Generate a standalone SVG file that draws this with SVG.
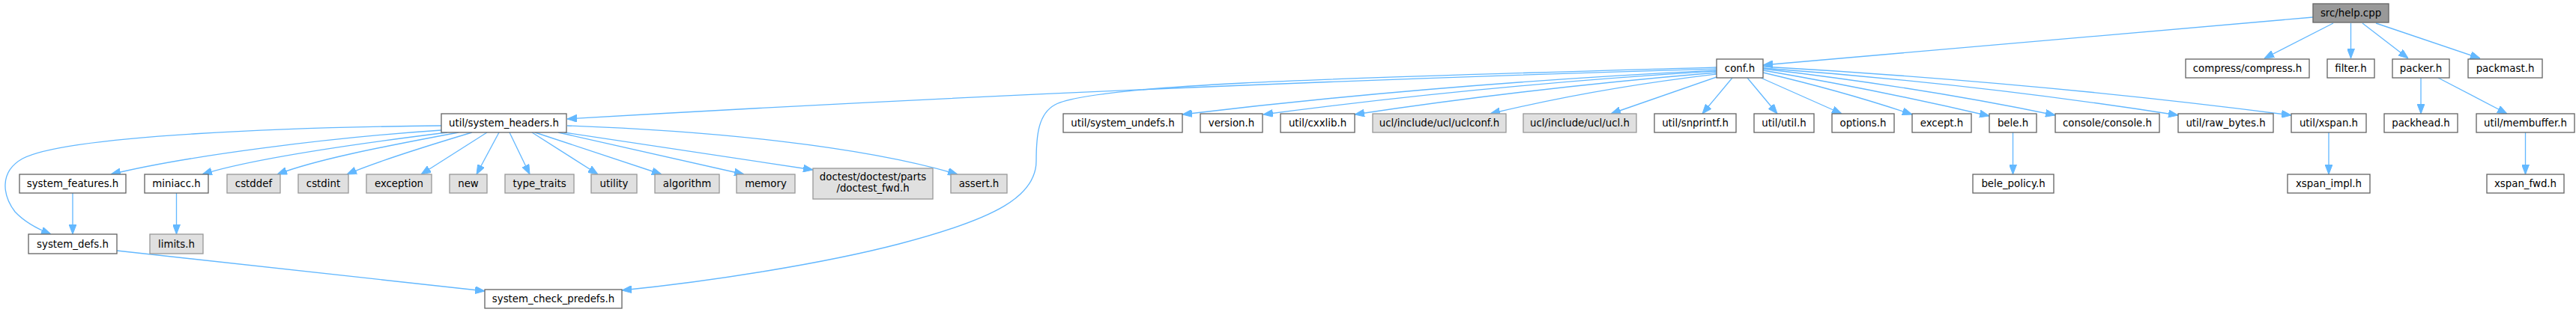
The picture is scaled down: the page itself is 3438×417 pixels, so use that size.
<svg xmlns="http://www.w3.org/2000/svg" width="3438" height="417" viewBox="0 0 3438 417">
<style>
.node rect{fill:#ffffff;stroke:#666666;stroke-width:1.33}
.node.ext rect{fill:#e0e0e0;stroke:#999999}
.node.root rect{fill:#999999;stroke:#666666}
.node text{font-family:"DejaVu Sans","Liberation Sans",sans-serif;font-size:13.33px;text-anchor:middle;fill:#000000}
#edges path{fill:none;stroke:#63b8ff;stroke-width:1.33;marker-end:url(#arr)}
</style>
<defs>
<marker id="arr" markerUnits="userSpaceOnUse" markerWidth="13" markerHeight="10" refX="13" refY="5" orient="auto">
<path d="M0,0 L13,5 L0,10 z" fill="#63b8ff" stroke="#63b8ff" stroke-width="1"/>
</marker>
</defs>
<rect width="3438" height="417" fill="#ffffff"/>
<g id="edges">
<path d="M3087,23 L2353,87"/>
<path d="M3114,31 L3022,78"/>
<path d="M3137.5,31 L3137.5,78"/>
<path d="M3153,31 L3214,78"/>
<path d="M3171,31 L3310,78"/>
<path d="M3231,104 L3231,152"/>
<path d="M3254,104 L3346,152"/>
<path d="M3370.5,177 L3370.5,233"/>
<path d="M2686.5,177 L2686.5,233"/>
<path d="M3108,177 L3108,233"/>
<path d="M2312,104 L2272,152"/>
<path d="M2332,104 L2372,152"/>
<path d="M2350,104 L2458,152"/>
<path d="M2353,97 Q2460,122 2552,153"/>
<path d="M2353,94 Q2510,121 2655,155"/>
<path d="M2353,92 Q2560,116 2743,154"/>
<path d="M2353,91 Q2640,112 2907,154"/>
<path d="M2353,89 Q2720,110 3058,154"/>
<path d="M2291,103 L2150,152"/>
<path d="M2291,99 Q2130,118 1989,152"/>
<path d="M2291,97 Q2040,118 1808,153"/>
<path d="M2291,95 Q1980,114 1686,153"/>
<path d="M2291,94 Q1920,112 1578,153"/>
<path d="M2291,92 Q1500,115 757,159"/>
<path d="M2291,90 C1800,104 1460,112 1408,140 C1386,152 1383,180 1383,215 C1383,262 1330,292 1200,326 C1100,352 950,376 830,388"/>
<path d="M589,168 C400,170 90,180 30,212 C-2,230 4,262 20,283 C34,298 50,306 68,313"/>
<path d="M589,174 C440,184 250,208 148,233"/>
<path d="M597,177 C460,194 330,214 270,233"/>
<path d="M612,177 C500,198 420,214 370,233"/>
<path d="M630,177 C560,198 500,217 463,233"/>
<path d="M650,177 L562,233"/>
<path d="M666,177 L636,233"/>
<path d="M680,177 L707,233"/>
<path d="M710,177 L798,233"/>
<path d="M714,177 L883,233"/>
<path d="M745,177 L993,233"/>
<path d="M753,177 L1085,227"/>
<path d="M757,168 C950,175 1150,195 1278,233"/>
<path d="M97,258 L97,313"/>
<path d="M235.5,258 L235.5,313"/>
<path d="M156,335 L647,389"/>
</g>
<g id="node1" class="node root"><rect x="3087" y="5" width="101" height="25"/><text x="3137.5" y="22">src/help.cpp</text></g>
<g id="node2" class="node"><rect x="2291" y="79" width="62" height="25"/><text x="2322" y="96">conf.h</text></g>
<g id="node3" class="node"><rect x="589" y="152" width="167" height="25"/><text x="672.5" y="169">util/system_headers.h</text></g>
<g id="node4" class="node"><rect x="26" y="233" width="142" height="25"/><text x="97" y="250">system_features.h</text></g>
<g id="node5" class="node"><rect x="38" y="313" width="118" height="26"/><text x="97" y="330.5">system_defs.h</text></g>
<g id="node6" class="node"><rect x="647" y="387" width="183" height="25"/><text x="738.5" y="404">system_check_predefs.h</text></g>
<g id="node7" class="node"><rect x="193" y="233" width="85" height="25"/><text x="235.5" y="250">miniacc.h</text></g>
<g id="node8" class="node ext"><rect x="200" y="313" width="71" height="26"/><text x="235.5" y="330.5">limits.h</text></g>
<g id="node9" class="node ext"><rect x="303" y="233" width="71" height="25"/><text x="338.5" y="250">cstddef</text></g>
<g id="node10" class="node ext"><rect x="398" y="233" width="67" height="25"/><text x="431.5" y="250">cstdint</text></g>
<g id="node11" class="node ext"><rect x="489" y="233" width="87" height="25"/><text x="532.5" y="250">exception</text></g>
<g id="node12" class="node ext"><rect x="600" y="233" width="50" height="25"/><text x="625" y="250">new</text></g>
<g id="node13" class="node ext"><rect x="674" y="233" width="92" height="25"/><text x="720" y="250">type_traits</text></g>
<g id="node14" class="node ext"><rect x="789" y="233" width="61" height="25"/><text x="819.5" y="250">utility</text></g>
<g id="node15" class="node ext"><rect x="874" y="233" width="86" height="25"/><text x="917" y="250">algorithm</text></g>
<g id="node16" class="node ext"><rect x="983" y="233" width="78" height="25"/><text x="1022" y="250">memory</text></g>
<g id="node17" class="node ext"><rect x="1085" y="225" width="160" height="41"/><text x="1165" y="241">doctest/doctest/parts</text><text x="1165" y="256">/doctest_fwd.h</text></g>
<g id="node18" class="node ext"><rect x="1269" y="233" width="75" height="25"/><text x="1306.5" y="250">assert.h</text></g>
<g id="node19" class="node"><rect x="1419" y="152" width="159" height="25"/><text x="1498.5" y="169">util/system_undefs.h</text></g>
<g id="node20" class="node"><rect x="1602" y="152" width="83" height="25"/><text x="1643.5" y="169">version.h</text></g>
<g id="node21" class="node"><rect x="1709" y="152" width="99" height="25"/><text x="1758.5" y="169">util/cxxlib.h</text></g>
<g id="node22" class="node ext"><rect x="1832" y="152" width="178" height="25"/><text x="1921" y="169">ucl/include/ucl/uclconf.h</text></g>
<g id="node23" class="node ext"><rect x="2033" y="152" width="151" height="25"/><text x="2108.5" y="169">ucl/include/ucl/ucl.h</text></g>
<g id="node24" class="node"><rect x="2208" y="152" width="109" height="25"/><text x="2262.5" y="169">util/snprintf.h</text></g>
<g id="node25" class="node"><rect x="2341" y="152" width="80" height="25"/><text x="2381" y="169">util/util.h</text></g>
<g id="node26" class="node"><rect x="2445" y="152" width="83" height="25"/><text x="2486.5" y="169">options.h</text></g>
<g id="node27" class="node"><rect x="2552" y="152" width="79" height="25"/><text x="2591.5" y="169">except.h</text></g>
<g id="node28" class="node"><rect x="2655" y="152" width="63" height="25"/><text x="2686.5" y="169">bele.h</text></g>
<g id="node29" class="node"><rect x="2633" y="233" width="108" height="25"/><text x="2687" y="250">bele_policy.h</text></g>
<g id="node30" class="node"><rect x="2743" y="152" width="139" height="25"/><text x="2812.5" y="169">console/console.h</text></g>
<g id="node31" class="node"><rect x="2907" y="152" width="127" height="25"/><text x="2970.5" y="169">util/raw_bytes.h</text></g>
<g id="node32" class="node"><rect x="3058" y="152" width="100" height="25"/><text x="3108" y="169">util/xspan.h</text></g>
<g id="node33" class="node"><rect x="3053" y="233" width="110" height="25"/><text x="3108" y="250">xspan_impl.h</text></g>
<g id="node34" class="node"><rect x="2917" y="79" width="165" height="25"/><text x="2999.5" y="96">compress/compress.h</text></g>
<g id="node35" class="node"><rect x="3106" y="79" width="63" height="25"/><text x="3137.5" y="96">filter.h</text></g>
<g id="node36" class="node"><rect x="3193" y="79" width="76" height="25"/><text x="3231" y="96">packer.h</text></g>
<g id="node37" class="node"><rect x="3182" y="152" width="98" height="25"/><text x="3231" y="169">packhead.h</text></g>
<g id="node38" class="node"><rect x="3305" y="152" width="131" height="25"/><text x="3370.5" y="169">util/membuffer.h</text></g>
<g id="node39" class="node"><rect x="3319" y="233" width="103" height="25"/><text x="3370.5" y="250">xspan_fwd.h</text></g>
<g id="node40" class="node"><rect x="3294" y="79" width="99" height="25"/><text x="3343.5" y="96">packmast.h</text></g>
</svg>
